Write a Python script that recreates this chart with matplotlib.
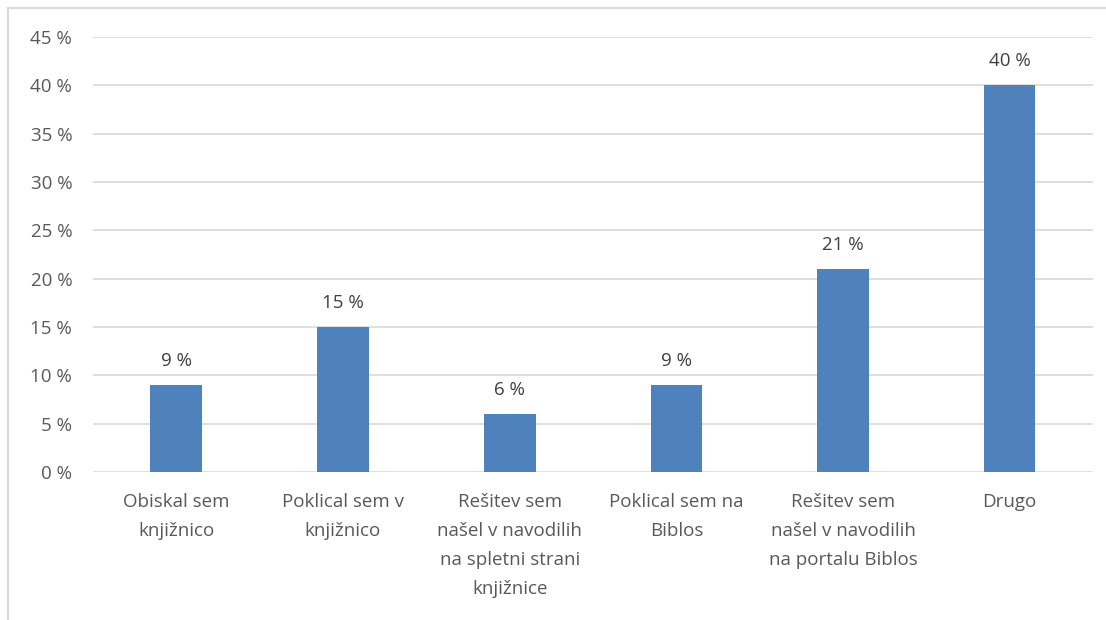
import matplotlib.pyplot as plt
from matplotlib.patches import Rectangle

categories = [
    "Obiskal sem\nknjižnico",
    "Poklical sem v\nknjižnico",
    "Rešitev sem\nnašel v navodilih\nna spletni strani\nknjižnice",
    "Poklical sem na\nBiblos",
    "Rešitev sem\nnašel v navodilih\nna portalu Biblos",
    "Drugo",
]
values = [9, 15, 6, 9, 21, 40]
yticks = [0, 5, 10, 15, 20, 25, 30, 35, 40, 45]

plt.rcParams['font.family'] = ['Open Sans', 'DejaVu Sans']

fig = plt.figure(figsize=(11.06, 6.2), dpi=100)
# chart frame (extends past right and bottom edge like in the screenshot)
fig.patches.append(Rectangle((8 / 1106, -0.1), 1.2, 1.1 - 8 / 620, transform=fig.transFigure,
                             fill=False, edgecolor='#d9d9d9', linewidth=1.5))

ax = fig.add_axes([93 / 1106, 148 / 620, 1000 / 1106, 435 / 620])
x = range(len(categories))
bars = ax.bar(x, values, width=0.31, color='#4f81bd', zorder=3)

for b, v in zip(bars, values):
    ax.annotate(f"{v} %", (b.get_x() + b.get_width() / 2, v), xytext=(0, 11),
                textcoords='offset points', ha='center', va='bottom',
                fontsize=13.5, color='#404040')

ax.set_xlim(-0.5, len(categories) - 0.5)
ax.set_ylim(0, 45)
ax.set_yticks(yticks)
ax.set_yticklabels([f"{t} %" for t in yticks], fontsize=13.5, color='#595959')
ax.set_xticks(list(x))
ax.set_xticklabels(categories, fontsize=13.5, color='#595959', linespacing=1.8, va='top')
ax.tick_params(axis='both', length=0)
ax.tick_params(axis='y', pad=15)
ax.tick_params(axis='x', pad=15)
ax.grid(axis='y', color='#d9d9d9', linewidth=1.2, zorder=0)
for s in ax.spines.values():
    s.set_visible(False)

fig.savefig('out.png', dpi=100)
